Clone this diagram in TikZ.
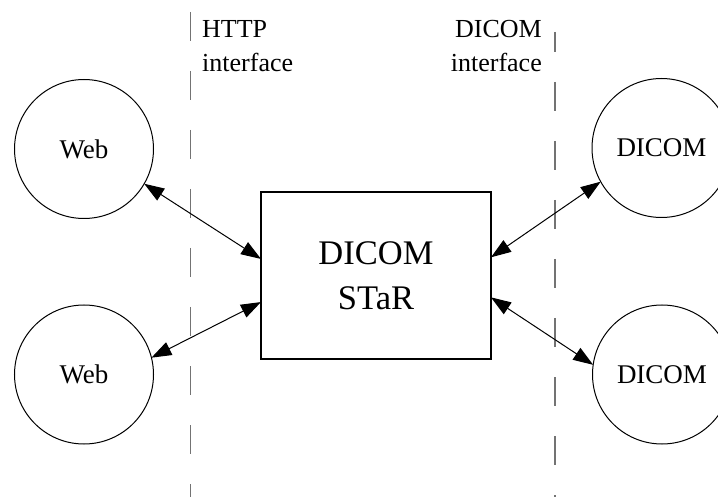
\documentclass[tikz,border=0pt]{standalone}
\usepackage{fontspec}
\setmainfont{Liberation Serif}
\usetikzlibrary{arrows.meta,calc}

\tikzset{
  site/.style={draw, circle, line width=1pt, minimum size=139pt, inner sep=0pt,
    outer sep=0pt, font=\fontsize{27}{31}\selectfont},
  hub/.style={draw, rectangle, line width=1.2pt, minimum width=230pt,
    minimum height=167pt, inner sep=0pt, outer sep=0pt, align=center,
    font=\fontsize{34.5}{45}\selectfont},
  caption/.style={inner sep=0pt, font=\fontsize{26}{34}\selectfont},
  boundary/.style={draw=black!55, line width=1.3pt, dash pattern=on 29pt off 30pt},
  link/.style={line width=1pt, {Triangle[length=20pt,width=14pt]}-{Triangle[length=20pt,width=14pt]}}
}

\begin{document}
\begin{tikzpicture}[x=1pt, y=-1pt]
  \useasboundingbox (0,0) rectangle (718,497);
  \clip (0,0) rectangle (718,497);

  % interface boundaries
  \coordinate (httpTop) at (190.5,12);
  \coordinate (httpBot) at (190.5,497);
  \coordinate (dicomTop) at (555,32);
  \coordinate (dicomBot) at (555,497);
  \draw[boundary] (httpTop) -- (httpBot);
  \draw[boundary, dash phase=9pt] (dicomTop) -- (dicomBot);

  \node[caption, anchor=north west, align=left] (httpLabel) at (202,20.5) {HTTP\\interface};
  \node[caption, anchor=north east, align=right] (dicomLabel) at (542,20.5) {DICOM\\interface};

  % endpoints
  \node[site] (web1) at (84,149) {Web};
  \node[site] (web2) at (84,374.5) {Web};
  \node[site] (dcm1) at (661.5,148) {DICOM};
  \node[site] (dcm2) at (662,374.5) {DICOM};

  % central server
  \node[hub] (star) at (376,275.5) {DICOM\\STaR};

  \coordinate (inW1) at ($(star.north west)!0.401!(star.south west)$);
  \coordinate (inW2) at ($(star.north west)!0.659!(star.south west)$);
  \coordinate (inE1) at ($(star.north east)!0.391!(star.south east)$);
  \coordinate (inE2) at ($(star.north east)!0.631!(star.south east)$);

  \draw[link] (web1.-30) -- (inW1);
  \draw[link] (web2.14.7) -- (inW2);
  \draw[link] (dcm1.-151.5) -- (inE1);
  \draw[link] (dcm2.172) -- (inE2);
\end{tikzpicture}
\end{document}
